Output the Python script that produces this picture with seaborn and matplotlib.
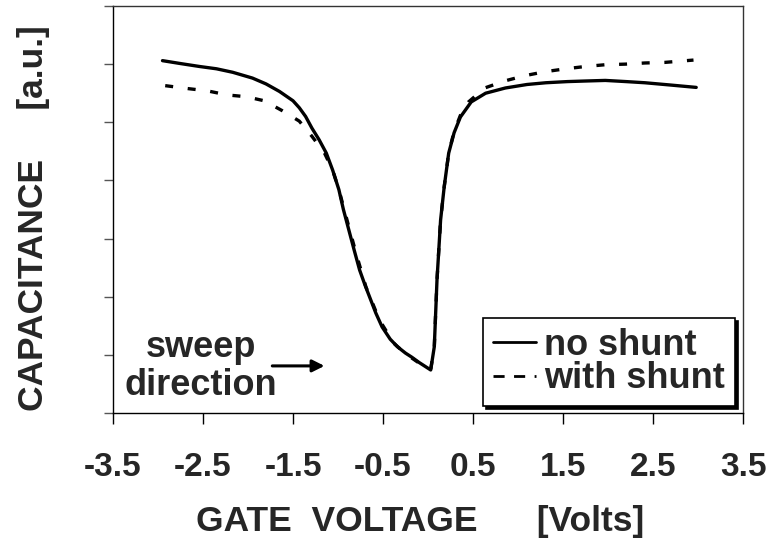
import numpy as np
import pandas as pd
import matplotlib
matplotlib.use("Agg")
import matplotlib.pyplot as plt
from matplotlib.lines import Line2D
import seaborn as sns

# Gate voltage sweep [V] and measured capacitance [a.u.]
v_no_shunt = [-2.95, -2.75, -2.54, -2.35, -2.17, -1.95, -1.80, -1.65, -1.50, -1.43,
              -1.36, -1.29, -1.21, -1.13, -1.06, -0.99, -0.94, -0.88, -0.82, -0.76,
              -0.70, -0.65, -0.58, -0.51, -0.42, -0.34, -0.25, -0.18, -0.10, -0.03,
              0.03, 0.07, 0.10, 0.14, 0.18, 0.23, 0.29, 0.36, 0.48, 0.64,
              0.86, 1.10, 1.31, 1.55, 1.75, 1.97, 2.20, 2.41, 2.70, 2.98]
c_no_shunt = [6.06, 6.01, 5.96, 5.92, 5.86, 5.76, 5.66, 5.53, 5.37, 5.25,
              5.10, 4.90, 4.70, 4.47, 4.18, 3.84, 3.50, 3.15, 2.80, 2.46,
              2.20, 2.00, 1.72, 1.48, 1.27, 1.14, 1.03, 0.96, 0.87, 0.80,
              0.74, 1.14, 2.29, 3.32, 3.89, 4.47, 4.82, 5.09, 5.35, 5.50,
              5.59, 5.65, 5.68, 5.70, 5.71, 5.72, 5.70, 5.68, 5.64, 5.60]

v_with_shunt = [-2.92, -2.67, -2.45, -2.23, -2.02, -1.82, -1.62, -1.43, -1.29, -1.15,
                -1.06, -0.99, -0.90, -0.80, -0.69, -0.54, -0.38, -0.25, -0.10, 0.03,
                0.07, 0.10, 0.14, 0.18, 0.23, 0.29, 0.36, 0.45, 0.63, 0.85,
                1.07, 1.30, 1.53, 1.75, 1.97, 2.19, 2.41, 2.63, 2.87, 2.95]
c_with_shunt = [5.63, 5.58, 5.54, 5.47, 5.44, 5.37, 5.20, 5.02, 4.76, 4.47,
                4.18, 3.84, 3.32, 2.75, 2.17, 1.60, 1.20, 1.02, 0.86, 0.75,
                1.14, 2.29, 3.32, 3.89, 4.47, 4.84, 5.12, 5.35, 5.59, 5.71,
                5.80, 5.87, 5.92, 5.96, 5.99, 6.00, 6.02, 6.03, 6.06, 6.07]

series_names = ["no shunt", "with shunt"]
x_ticks = [-3.5, -2.5, -1.5, -0.5, 0.5, 1.5, 2.5, 3.5]
y_ticks = [0, 1, 2, 3, 4, 5, 6, 7]

df = pd.concat([
    pd.DataFrame({"V": v_no_shunt, "C": c_no_shunt, "series": series_names[0]}),
    pd.DataFrame({"V": v_with_shunt, "C": c_with_shunt, "series": series_names[1]}),
], ignore_index=True)

sns.set_theme(style="white")
plt.rcParams["font.family"] = ["Liberation Sans", "DejaVu Sans"]
plt.rcParams["font.weight"] = "bold"
plt.rcParams["axes.unicode_minus"] = False

W, H = 768, 545
fig = plt.figure(figsize=(W / 100, H / 100), dpi=100)
ax = fig.add_axes([113 / W, (H - 413) / H, 630 / W, 407 / H])

sns.lineplot(data=df, x="V", y="C", style="series",
             dashes={"no shunt": "", "with shunt": (2.4, 4.4)},
             color="black", linewidth=2.4, estimator=None, sort=False,
             legend=False, ax=ax)

ax.set_xlim(-3.5, 3.5)
ax.set_ylim(0, 7)
ax.set_xticks(x_ticks)
ax.set_xticklabels([f"{t:.1f}" for t in x_ticks], fontsize=24, fontweight="bold")
ax.set_yticks(y_ticks)
ax.set_yticklabels([])
ax.tick_params(axis="x", direction="out", length=8, width=1.0, color="black",
               pad=20, bottom=True)
ax.tick_params(axis="y", direction="out", length=6.5, width=1.0, color="#555555",
               left=True)

for side in ("left", "bottom"):
    ax.spines[side].set_color("black")
    ax.spines[side].set_linewidth(1.0)
for side in ("top", "right"):
    ax.spines[side].set_color("#333333")
    ax.spines[side].set_linewidth(1.0)

ax.set_xlabel("GATE  VOLTAGE      [Volts]", fontsize=25.5, fontweight="bold")
ax.set_ylabel("CAPACITANCE     [a.u.]", fontsize=25.5, fontweight="bold")
ax.xaxis.set_label_coords(0.487, -0.225)
ax.yaxis.set_label_coords(-0.100, 0.480)

# sweep direction note with arrow
ax.text(-2.52, 0.80, "sweep\ndirection", ha="center", va="center",
        fontsize=26, fontweight="bold", linespacing=1.1)
ax.annotate("", xy=(-1.15, 0.81), xytext=(-1.73, 0.81),
            arrowprops=dict(arrowstyle="-|>", color="black", lw=2.2,
                            mutation_scale=18, shrinkA=0, shrinkB=0))

handles = [Line2D([], [], color="black", lw=2.0, linestyle="-"),
           Line2D([], [], color="black", lw=2.0, linestyle=(0, (4.0, 3.4)))]
leg = ax.legend(handles, series_names, loc="lower right",
                bbox_to_anchor=(0.987, 0.017), borderaxespad=0,
                prop={"size": 26, "weight": "bold"},
                handlelength=1.2, handletextpad=0.22, borderpad=0.27,
                labelspacing=-0.05, frameon=True, fancybox=False,
                shadow={"color": "black", "alpha": 1.0})
leg.get_frame().set_edgecolor("black")
leg.get_frame().set_linewidth(1.2)
leg.get_frame().set_alpha(1.0)

fig.savefig("out.png", dpi=100, facecolor="white")
